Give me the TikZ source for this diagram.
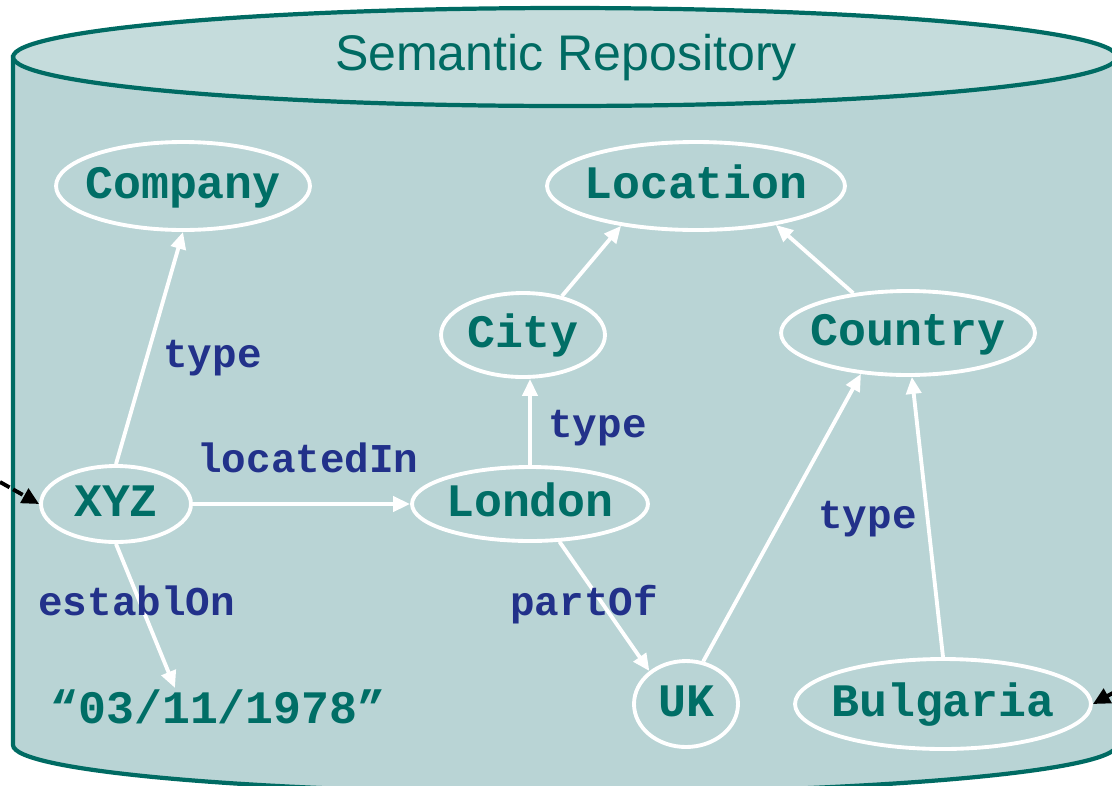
\documentclass[tikz,border=0pt]{standalone}
\usepackage{fontspec}
\usetikzlibrary{shapes.geometric,arrows.meta}
\newfontfamily\monofont{Liberation Mono}
\newfontfamily\titlefont{Liberation Sans}
\definecolor{repofill}{HTML}{B9D4D5}
\definecolor{repotop}{HTML}{C5DCDC}
\definecolor{repoline}{HTML}{006B63}
\definecolor{conceptcol}{HTML}{006E66}
\definecolor{relcol}{HTML}{22318A}
% concept text, kept out of the ellipse size
\newcommand{\concepttext}[1]{\makebox[0pt]{\raisebox{-0.24cm}[0pt][0pt]{#1}}}

\begin{document}
\begin{tikzpicture}[x=0.02cm, y=-0.02cm,
    concept/.style={ellipse, draw=white, line width=2.2pt, inner sep=0pt,
        font=\monofont\bfseries\fontsize{26.5}{30}\selectfont, text=conceptcol},
    relation/.style={anchor=base west, inner sep=0pt,
        font=\monofont\bfseries\fontsize{23.3}{27}\selectfont, text=relcol},
    link/.style={draw=white, line width=2.2pt, -{Triangle[length=0.34cm,width=0.3cm]}},
    entry/.style={draw=black, line width=2.2pt, -{Triangle[length=0.34cm,width=0.32cm]}}]
    \clip (0,0) rectangle (1112,785);

    % Repository cylinder
    \filldraw[fill=repofill, draw=repoline, line width=2.4pt]
        (13,57) -- (13,745) arc[start angle=180, end angle=360, x radius=11.04cm, y radius=0.96cm]
        -- (1117,57) -- cycle;
    \filldraw[fill=repotop, draw=repoline, line width=2.4pt]
        (565,57) ellipse[x radius=11.04cm, y radius=0.98cm];
    \node[font=\titlefont\fontsize{28.5}{32}\selectfont, text=repoline] (title) at (566,58) {Semantic Repository};

    % Concepts
    \node[concept, minimum width=5.08cm, minimum height=1.76cm] (company) at (183,186) {\concepttext{Company}};
    \node[concept, minimum width=5.96cm, minimum height=1.76cm] (location) at (696,186) {\concepttext{Location}};
    \node[concept, minimum width=3.28cm, minimum height=1.68cm] (city) at (523,335) {\concepttext{City}};
    \node[concept, minimum width=5.08cm, minimum height=1.68cm] (country) at (908,333) {\concepttext{Country}};
    \node[concept, minimum width=3.0cm, minimum height=1.52cm] (xyz) at (116,504) {\concepttext{XYZ}};
    \node[concept, minimum width=4.72cm, minimum height=1.48cm] (london) at (530,504) {\concepttext{London}};
    \node[concept, minimum width=2.08cm, minimum height=1.72cm] (uk) at (686,704) {\concepttext{UK}};
    \node[concept, minimum width=5.92cm, minimum height=1.8cm] (bulgaria) at (943,704) {\concepttext{Bulgaria}};
    \node[font=\monofont\bfseries\fontsize{26.5}{30}\selectfont, text=conceptcol,
        anchor=base west, inner sep=0pt] (date) at (50,723) {“03/11/1978”};
    \coordinate (datetip) at (175,688);

    % Relations
    \draw[link] (xyz.north) -- (company.south);
    \draw[link] (xyz.east) -- (london.west);
    \draw[link] (xyz.south) -- (datetip);
    \draw[link] (london.north) -- (london.north |- city.south);
    \draw[link] (city.45) -- (location.208);
    \draw[link] (country.144) -- (location.334);
    \draw[link] (london.308) -- (uk.138);
    \draw[link] (uk.68) -- (country.221);
    \draw[link] (bulgaria.north) -- (country.275);

    \node[relation] (typeA) at (163,367) {type};
    \node[relation] (locatedin) at (197,472) {locatedIn};
    \node[relation] (typeB) at (548,437) {type};
    \node[relation] (typeC) at (818,528) {type};
    \node[relation] (establon) at (38,615) {establOn};
    \node[relation] (partof) at (510,615) {partOf};

    % Incoming arrows
    \coordinate (leftin) at (0,482);
    \coordinate (rightin) at (1120,689);
    \draw[entry, dash pattern=on 0.22cm off 0.08cm] (leftin) -- (xyz.west);
    \draw[entry] (rightin) -- (bulgaria.east);
\end{tikzpicture}
\end{document}
